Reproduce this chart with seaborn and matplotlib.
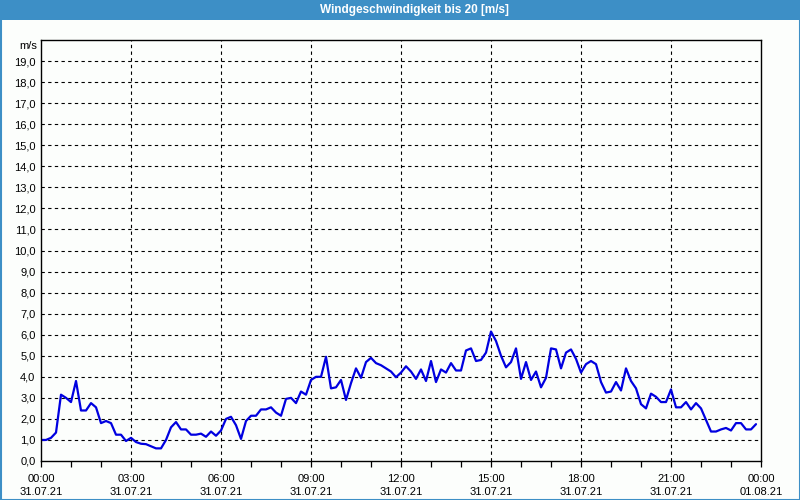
import numpy as np
import pandas as pd
import matplotlib
matplotlib.use("Agg")
import matplotlib.pyplot as plt
from matplotlib.patches import Rectangle
import seaborn as sns

# ---- data ----
minutes = list(range(0, 1440, 10))  # 10-minute samples, 31.07.21
wind = [
    1.0, 1.0, 1.1, 1.35, 3.15, 3.0, 2.8, 3.8, 2.4, 2.4, 2.75, 2.55,
    1.8, 1.9, 1.8, 1.25, 1.25, 0.95, 1.1, 0.9, 0.82, 0.8, 0.7, 0.6,
    0.6, 1.0, 1.6, 1.85, 1.5, 1.5, 1.25, 1.25, 1.3, 1.15, 1.4, 1.2,
    1.45, 2.0, 2.1, 1.7, 1.05, 1.9, 2.15, 2.15, 2.45, 2.45, 2.55, 2.3,
    2.15, 2.95, 3.0, 2.75, 3.3, 3.15, 3.85, 4.0, 4.0, 4.95, 3.45, 3.5,
    3.85, 2.9, 3.7, 4.4, 3.95, 4.7, 4.9, 4.65, 4.55, 4.4, 4.25, 3.98,
    4.2, 4.5, 4.25, 3.9, 4.35, 3.8, 4.75, 3.75, 4.35, 4.2, 4.65, 4.3,
    4.3, 5.25, 5.35, 4.75, 4.8, 5.15, 6.15, 5.7, 5.0, 4.45, 4.7, 5.35,
    3.9, 4.7, 3.85, 4.25, 3.5, 3.95, 5.35, 5.3, 4.4, 5.15, 5.3, 4.85,
    4.2, 4.6, 4.75, 4.6, 3.75, 3.25, 3.3, 3.75, 3.35, 4.4, 3.8, 3.45,
    2.7, 2.5, 3.2, 3.05, 2.8, 2.8, 3.4, 2.55, 2.55, 2.8, 2.45, 2.75,
    2.5, 1.95, 1.4, 1.4, 1.5, 1.57, 1.45, 1.8, 1.8, 1.5, 1.5, 1.75,
]
x_tick_hours = [0, 3, 6, 9, 12, 15, 18, 21, 24]
x_tick_labels = ["00:00\n31.07.21", "03:00\n31.07.21", "06:00\n31.07.21",
                 "09:00\n31.07.21", "12:00\n31.07.21", "15:00\n31.07.21",
                 "18:00\n31.07.21", "21:00\n31.07.21", "00:00\n01.08.21"]
y_ticks = list(range(0, 20))
y_tick_labels = [f"{v},0" for v in y_ticks]
title = "Windgeschwindigkeit bis 20 [m/s]"
unit = "m/s"

df = pd.DataFrame({"hour": np.array(minutes) / 60.0, "wind": wind})

sns.set_theme(style="white")
plt.rcParams["font.family"] = ["Liberation Sans", "DejaVu Sans"]

bg = "#fcfefc"
blue_bar = "#3d8fc6"

fig = plt.figure(figsize=(8, 5), dpi=100, facecolor=bg)
ax = fig.add_axes([41 / 800, 1 - 461 / 500, 720 / 800, 421 / 500])
ax.set_facecolor(bg)

sns.lineplot(data=df, x="hour", y="wind", ax=ax, color="#0000e0",
             linewidth=1.6, legend=False)

ax.set_xlim(0, 24)
ax.set_ylim(0, 20)
ax.set_xticks(x_tick_hours)
ax.set_xticklabels(x_tick_labels, fontsize=8, color="black", linespacing=1.45)
ax.set_xticks(range(0, 25), minor=True)
ax.set_yticks(y_ticks)
ax.set_yticklabels(y_tick_labels, fontsize=8, color="black")
ax.tick_params(axis="x", which="both", direction="out", length=4, width=0.9,
               color="black", pad=5, bottom=True)
ax.tick_params(axis="y", length=0, pad=4)
ax.set_xlabel("")
ax.set_ylabel("")

for s in ax.spines.values():
    s.set_color("black")
    s.set_linewidth(1.0)

for h in x_tick_hours[1:-1]:
    ax.axvline(h, color="black", linewidth=0.8, linestyle=(0, (3, 3)), zorder=0)
for v in y_ticks[1:]:
    ax.axhline(v, color="black", linewidth=0.8, linestyle=(0, (3, 3)), zorder=0)

# unit label
fig.text(37 / 800, 1 - 46 / 500, unit, ha="right", va="center", fontsize=8,
         color="black")

# title bar
fig.patches.append(Rectangle((0, 1 - 20 / 500), 1, 20 / 500,
                             transform=fig.transFigure, facecolor=blue_bar,
                             edgecolor="none", zorder=0))
fig.text(414 / 800, 1 - 10 / 500, title, ha="center", va="center", fontsize=8.5,
         fontweight="bold", color="white")
# outer frame
fig.patches.append(Rectangle((0.5 / 800, 0.5 / 500), 799 / 800, 499 / 500,
                             transform=fig.transFigure, facecolor="none",
                             edgecolor=blue_bar, linewidth=1.5, zorder=5))

fig.savefig("out.png", dpi=100, facecolor=bg)
